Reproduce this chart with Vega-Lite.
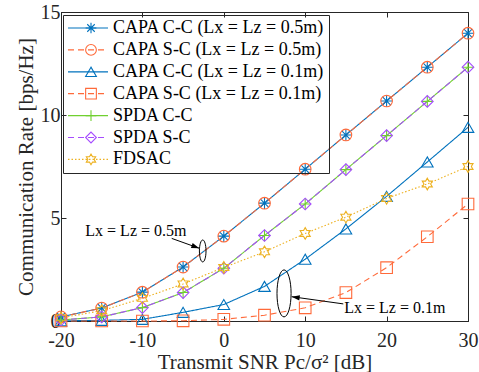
{
  "$schema": "https://vega.github.io/schema/vega-lite/v6.json",
  "autosize": "none",
  "width": 407,
  "height": 309,
  "padding": {"left": 61, "top": 12, "right": 11, "bottom": 51},
  "background": "white",
  "config": {
    "view": {"stroke": "#262626", "strokeWidth": 1},
    "axis": {"labelFont": "Liberation Serif", "labelFontSize": 20, "labelColor": "#262626", "titleFont": "Liberation Serif", "titleFontSize": 21, "titleFontWeight": "normal", "titleColor": "#262626", "domainColor": "#262626", "tickColor": "#262626", "tickSize": -5, "grid": false, "labelFlush": false, "labelOverlap": false}
  },
  "datasets": {
    "rates": [
      {"snr": -20, "series": "CAPA C-C (Lx = Lz = 0.5m)", "rate": 0.2},
      {"snr": -15, "series": "CAPA C-C (Lx = Lz = 0.5m)", "rate": 0.63},
      {"snr": -10, "series": "CAPA C-C (Lx = Lz = 0.5m)", "rate": 1.4},
      {"snr": -5, "series": "CAPA C-C (Lx = Lz = 0.5m)", "rate": 2.62},
      {"snr": 0, "series": "CAPA C-C (Lx = Lz = 0.5m)", "rate": 4.12},
      {"snr": 5, "series": "CAPA C-C (Lx = Lz = 0.5m)", "rate": 5.72},
      {"snr": 10, "series": "CAPA C-C (Lx = Lz = 0.5m)", "rate": 7.37},
      {"snr": 15, "series": "CAPA C-C (Lx = Lz = 0.5m)", "rate": 9.03},
      {"snr": 20, "series": "CAPA C-C (Lx = Lz = 0.5m)", "rate": 10.68},
      {"snr": 25, "series": "CAPA C-C (Lx = Lz = 0.5m)", "rate": 12.32},
      {"snr": 30, "series": "CAPA C-C (Lx = Lz = 0.5m)", "rate": 13.97},
      {"snr": -20, "series": "CAPA S-C (Lx = Lz = 0.5m)", "rate": 0.2},
      {"snr": -15, "series": "CAPA S-C (Lx = Lz = 0.5m)", "rate": 0.63},
      {"snr": -10, "series": "CAPA S-C (Lx = Lz = 0.5m)", "rate": 1.4},
      {"snr": -5, "series": "CAPA S-C (Lx = Lz = 0.5m)", "rate": 2.62},
      {"snr": 0, "series": "CAPA S-C (Lx = Lz = 0.5m)", "rate": 4.12},
      {"snr": 5, "series": "CAPA S-C (Lx = Lz = 0.5m)", "rate": 5.72},
      {"snr": 10, "series": "CAPA S-C (Lx = Lz = 0.5m)", "rate": 7.37},
      {"snr": 15, "series": "CAPA S-C (Lx = Lz = 0.5m)", "rate": 9.03},
      {"snr": 20, "series": "CAPA S-C (Lx = Lz = 0.5m)", "rate": 10.68},
      {"snr": 25, "series": "CAPA S-C (Lx = Lz = 0.5m)", "rate": 12.32},
      {"snr": 30, "series": "CAPA S-C (Lx = Lz = 0.5m)", "rate": 13.97},
      {"snr": -20, "series": "CAPA C-C (Lx = Lz = 0.1m)", "rate": 0.01},
      {"snr": -15, "series": "CAPA C-C (Lx = Lz = 0.1m)", "rate": 0.03},
      {"snr": -10, "series": "CAPA C-C (Lx = Lz = 0.1m)", "rate": 0.08},
      {"snr": -5, "series": "CAPA C-C (Lx = Lz = 0.1m)", "rate": 0.42},
      {"snr": 0, "series": "CAPA C-C (Lx = Lz = 0.1m)", "rate": 0.8},
      {"snr": 5, "series": "CAPA C-C (Lx = Lz = 0.1m)", "rate": 1.68},
      {"snr": 10, "series": "CAPA C-C (Lx = Lz = 0.1m)", "rate": 3.0},
      {"snr": 15, "series": "CAPA C-C (Lx = Lz = 0.1m)", "rate": 4.47},
      {"snr": 20, "series": "CAPA C-C (Lx = Lz = 0.1m)", "rate": 6.05},
      {"snr": 25, "series": "CAPA C-C (Lx = Lz = 0.1m)", "rate": 7.72},
      {"snr": 30, "series": "CAPA C-C (Lx = Lz = 0.1m)", "rate": 9.4},
      {"snr": -20, "series": "CAPA S-C (Lx = Lz = 0.1m)", "rate": 0.0},
      {"snr": -15, "series": "CAPA S-C (Lx = Lz = 0.1m)", "rate": 0.0},
      {"snr": -10, "series": "CAPA S-C (Lx = Lz = 0.1m)", "rate": 0.0},
      {"snr": -5, "series": "CAPA S-C (Lx = Lz = 0.1m)", "rate": 0.01},
      {"snr": 0, "series": "CAPA S-C (Lx = Lz = 0.1m)", "rate": 0.08},
      {"snr": 5, "series": "CAPA S-C (Lx = Lz = 0.1m)", "rate": 0.28},
      {"snr": 10, "series": "CAPA S-C (Lx = Lz = 0.1m)", "rate": 0.64},
      {"snr": 15, "series": "CAPA S-C (Lx = Lz = 0.1m)", "rate": 1.38},
      {"snr": 20, "series": "CAPA S-C (Lx = Lz = 0.1m)", "rate": 2.59},
      {"snr": 25, "series": "CAPA S-C (Lx = Lz = 0.1m)", "rate": 4.09},
      {"snr": 30, "series": "CAPA S-C (Lx = Lz = 0.1m)", "rate": 5.68},
      {"snr": -20, "series": "SPDA C-C", "rate": 0.05},
      {"snr": -15, "series": "SPDA C-C", "rate": 0.2},
      {"snr": -10, "series": "SPDA C-C", "rate": 0.65},
      {"snr": -5, "series": "SPDA C-C", "rate": 1.38},
      {"snr": 0, "series": "SPDA C-C", "rate": 2.56},
      {"snr": 5, "series": "SPDA C-C", "rate": 4.15},
      {"snr": 10, "series": "SPDA C-C", "rate": 5.68},
      {"snr": 15, "series": "SPDA C-C", "rate": 7.35},
      {"snr": 20, "series": "SPDA C-C", "rate": 9.0},
      {"snr": 25, "series": "SPDA C-C", "rate": 10.66},
      {"snr": 30, "series": "SPDA C-C", "rate": 12.32},
      {"snr": -20, "series": "SPDA S-C", "rate": 0.05},
      {"snr": -15, "series": "SPDA S-C", "rate": 0.2},
      {"snr": -10, "series": "SPDA S-C", "rate": 0.65},
      {"snr": -5, "series": "SPDA S-C", "rate": 1.38},
      {"snr": 0, "series": "SPDA S-C", "rate": 2.56},
      {"snr": 5, "series": "SPDA S-C", "rate": 4.15},
      {"snr": 10, "series": "SPDA S-C", "rate": 5.68},
      {"snr": 15, "series": "SPDA S-C", "rate": 7.35},
      {"snr": 20, "series": "SPDA S-C", "rate": 9.0},
      {"snr": 25, "series": "SPDA S-C", "rate": 10.66},
      {"snr": 30, "series": "SPDA S-C", "rate": 12.32},
      {"snr": -20, "series": "FDSAC", "rate": 0.15},
      {"snr": -15, "series": "FDSAC", "rate": 0.5},
      {"snr": -10, "series": "FDSAC", "rate": 1.1},
      {"snr": -5, "series": "FDSAC", "rate": 1.8},
      {"snr": 0, "series": "FDSAC", "rate": 2.6},
      {"snr": 5, "series": "FDSAC", "rate": 3.36},
      {"snr": 10, "series": "FDSAC", "rate": 4.25},
      {"snr": 15, "series": "FDSAC", "rate": 5.04},
      {"snr": 20, "series": "FDSAC", "rate": 5.95},
      {"snr": 25, "series": "FDSAC", "rate": 6.65},
      {"snr": 30, "series": "FDSAC", "rate": 7.5}
    ]
  },
  "resolve": {
    "scale": {"color": "independent", "shape": "independent", "strokeDash": "independent"},
    "legend": {"color": "independent", "shape": "independent", "strokeDash": "independent"},
    "axis": {"x": "independent", "y": "independent"}
  },
  "encoding": {
    "x": {"field": "snr", "type": "quantitative", "scale": {"domain": [-20, 30], "nice": false}, "axis": null},
    "y": {"field": "rate", "type": "quantitative", "scale": {"domain": [0, 15], "nice": false}, "axis": null}
  },
  "layer": [
    {
      "data": {"name": "rates"},
      "mark": {"type": "line", "strokeWidth": 1.1},
      "encoding": {
        "x": {"field": "snr", "type": "quantitative", "scale": {"domain": [-20, 30], "nice": false},
          "axis": {"orient": "bottom", "values": [-20, -10, 0, 10, 20, 30], "labelExpr": "'' + datum.value", "title": "Transmit SNR Pc/σ² [dB]", "labelPadding": 14, "titlePadding": 1}},
        "y": {"field": "rate", "type": "quantitative", "scale": {"domain": [0, 15], "nice": false},
          "axis": {"orient": "left", "values": [0, 5, 10, 15], "title": "Communication Rate [bps/Hz]", "labelPadding": 6, "titlePadding": 4}},
        "color": {"field": "series", "type": "nominal",
          "scale": {"domain": ["CAPA C-C (Lx = Lz = 0.5m)", "CAPA S-C (Lx = Lz = 0.5m)", "CAPA C-C (Lx = Lz = 0.1m)", "CAPA S-C (Lx = Lz = 0.1m)", "SPDA C-C", "SPDA S-C", "FDSAC"],
            "range": ["#0072BD", "#FF6A3A", "#0072BD", "#FF6A3A", "#70D030", "#A64DFF", "#EDB120"]},
          "legend": {"title": null, "orient": "none", "legendX": 2, "legendY": 3, "symbolType": "stroke", "symbolSize": 1600, "symbolStrokeWidth": 1.2, "clipHeight": 18, "rowPadding": 3.9, "padding": 4, "labelFont": "Liberation Serif", "labelFontSize": 18, "labelExpr": "''", "labelOffset": 3}},
        "strokeDash": {"field": "series", "type": "nominal",
          "scale": {"domain": ["CAPA C-C (Lx = Lz = 0.5m)", "CAPA S-C (Lx = Lz = 0.5m)", "CAPA C-C (Lx = Lz = 0.1m)", "CAPA S-C (Lx = Lz = 0.1m)", "SPDA C-C", "SPDA S-C", "FDSAC"],
            "range": [[1, 0], [6, 4], [1, 0], [6, 4], [1, 0], [6, 4], [1.5, 2]]},
          "legend": {"title": null, "orient": "none", "legendX": 2, "legendY": 3, "symbolType": "stroke", "symbolSize": 1600, "symbolStrokeWidth": 1.2, "clipHeight": 18, "rowPadding": 3.9, "padding": 4, "labelFont": "Liberation Serif", "labelFontSize": 18, "labelExpr": "''", "labelOffset": 3}}
      }
    },
    {
      "data": {"name": "rates"},
      "mark": {"type": "point", "filled": false, "size": 135, "strokeWidth": 1.1, "opacity": 1},
      "encoding": {
        "color": {"field": "series", "type": "nominal",
          "scale": {"domain": ["CAPA C-C (Lx = Lz = 0.5m)", "CAPA S-C (Lx = Lz = 0.5m)", "CAPA C-C (Lx = Lz = 0.1m)", "CAPA S-C (Lx = Lz = 0.1m)", "SPDA C-C", "SPDA S-C", "FDSAC"],
            "range": ["#0072BD", "#FF6A3A", "#0072BD", "#FF6A3A", "#70D030", "#A64DFF", "#EDB120"]},
          "legend": {"title": null, "orient": "none", "legendX": 2, "legendY": 3, "symbolSize": 115, "symbolOffset": 15, "symbolStrokeWidth": 1.1, "clipHeight": 18, "rowPadding": 3.9, "padding": 4, "labelFont": "Liberation Serif", "labelFontSize": 18, "labelColor": "#000000", "labelOffset": 13, "labelLimit": 400, "strokeColor": "#262626", "cornerRadius": 0}},
        "shape": {"field": "series", "type": "nominal",
          "scale": {"domain": ["CAPA C-C (Lx = Lz = 0.5m)", "CAPA S-C (Lx = Lz = 0.5m)", "CAPA C-C (Lx = Lz = 0.1m)", "CAPA S-C (Lx = Lz = 0.1m)", "SPDA C-C", "SPDA S-C", "FDSAC"],
            "range": ["M-1,0L1,0M0,-1L0,1M-0.7,-0.7L0.7,0.7M-0.7,0.7L0.7,-0.7", "circle", "triangle-up", "square", "M-1,0L1,0M0,-1L0,1", "diamond", "M0,-1L0.289,-0.5L0.866,-0.5L0.577,0L0.866,0.5L0.289,0.5L0,1L-0.289,0.5L-0.866,0.5L-0.577,0L-0.866,-0.5L-0.289,-0.5Z"]},
          "legend": {"title": null, "orient": "none", "legendX": 2, "legendY": 3, "symbolSize": 115, "symbolOffset": 15, "symbolStrokeWidth": 1.1, "clipHeight": 18, "rowPadding": 3.9, "padding": 4, "labelFont": "Liberation Serif", "labelFontSize": 18, "labelColor": "#000000", "labelOffset": 13, "labelLimit": 400, "strokeColor": "#262626", "cornerRadius": 0}}
      }
    },
    {
      "data": {"values": [{"snr": -2.59, "rate": 3.4}]},
      "mark": {"type": "point", "shape": "M0,-1C0.166,-1 0.3,-0.552 0.3,0C0.3,0.552 0.166,1 0,1C-0.166,1 -0.3,0.552 -0.3,0C-0.3,-0.552 -0.166,-1 0,-1Z", "filled": false, "size": 484, "color": "#000000", "strokeWidth": 1, "opacity": 1}
    },
    {
      "data": {"values": [{"snr": 7.4, "rate": 1.34}]},
      "mark": {"type": "point", "shape": "M0,-1C0.166,-1 0.3,-0.552 0.3,0C0.3,0.552 0.166,1 0,1C-0.166,1 -0.3,0.552 -0.3,0C-0.3,-0.552 -0.166,-1 0,-1Z", "filled": false, "size": 2209, "color": "#000000", "strokeWidth": 1, "opacity": 1}
    },
    {
      "data": {"values": [{"snr": -6.4, "rate": 4.01, "snr2": -3.01, "rate2": 3.53}, {"snr": 14.68, "rate": 0.83, "snr2": 8.34, "rate2": 1.18}]},
      "mark": {"type": "rule", "color": "#000000", "strokeWidth": 1},
      "encoding": {"x2": {"field": "snr2"}, "y2": {"field": "rate2"}}
    },
    {
      "data": {"values": [{"snr": -3.01, "rate": 3.53}]},
      "mark": {"type": "point", "shape": "M0,0L-2,-0.65L-2,0.65Z", "filled": true, "size": 64, "color": "#000000", "angle": 20, "opacity": 1}
    },
    {
      "data": {"values": [{"snr": 8.34, "rate": 1.18}]},
      "mark": {"type": "point", "shape": "M0,0L-2,-0.65L-2,0.65Z", "filled": true, "size": 64, "color": "#000000", "angle": 188, "opacity": 1}
    },
    {
      "data": {"values": [{"snr": -10.8, "rate": 4.37, "label": "Lx = Lz = 0.5m"}]},
      "mark": {"type": "text", "font": "Liberation Serif", "fontSize": 16, "align": "center", "baseline": "middle", "color": "#000000"},
      "encoding": {
        "x": {"field": "snr", "type": "quantitative", "scale": {"domain": [-20, 30], "nice": false},
          "axis": {"orient": "top", "values": [-20, -10, 0, 10, 20, 30], "labels": false, "domain": false, "title": null}},
        "y": {"field": "rate", "type": "quantitative", "scale": {"domain": [0, 15], "nice": false},
          "axis": {"orient": "right", "values": [0, 5, 10, 15], "labels": false, "domain": false, "title": null}},
        "text": {"field": "label"}
      }
    },
    {
      "data": {"values": [{"snr": 14.8, "rate": 0.65, "label": "Lx = Lz = 0.1m"}]},
      "mark": {"type": "text", "font": "Liberation Serif", "fontSize": 16, "align": "left", "baseline": "middle", "color": "#000000"},
      "encoding": {"text": {"field": "label"}}
    }
  ]
}
